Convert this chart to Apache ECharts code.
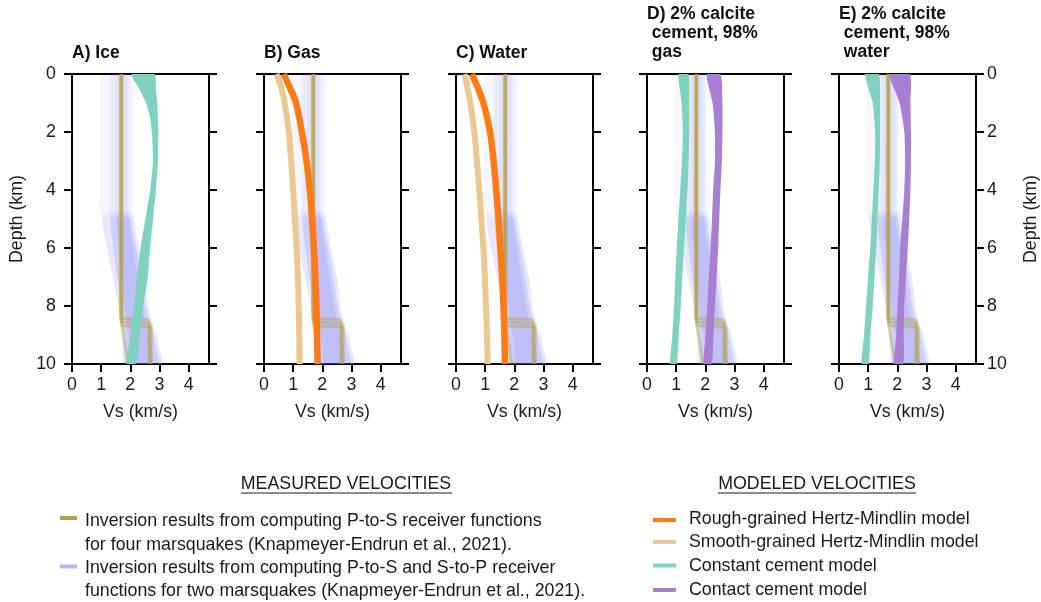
<!DOCTYPE html>
<html>
<head>
<meta charset="utf-8">
<script src="https://cdn.jsdelivr.net/npm/echarts@6/dist/echarts.min.js"></script>
<style>
  html, body { margin: 0; padding: 0; background: #fff; }
  #chart { width: 1041px; height: 602px; }
</style>
</head>
<body>
<div id="chart"></div>
<script>
const FONT = '"Liberation Sans", Arial, sans-serif'

// tick values
const xTicks = [0, 1, 2, 3, 4]
const yTicks = [0, 2, 4, 6, 8, 10]

// measured: inversion results (P-to-S and S-to-P), read as envelope bands
const blueDepth = [0, 4.7, 4.8, 5.5, 6, 7, 8, 8.5, 9, 10]
const blueOuterLo = [0.95, 0.95, 1.0, 1.1, 1.2, 1.4, 1.6, 1.7, 1.72, 1.75]
const blueOuterHi = [2.15, 2.15, 2.1, 2.2, 2.3, 2.5, 2.62, 2.72, 2.9, 3.12]
const blueInnerLo = [1.3, 1.3, 1.3, 1.35, 1.42, 1.55, 1.7, 1.76, 1.8, 1.85]
const blueInnerHi = [2.0, 2.0, 2.0, 2.1, 2.2, 2.38, 2.52, 2.62, 2.8, 3.0]
const blueCoreLo = [1.5, 1.5, 1.5, 1.55, 1.6, 1.7, 1.8, 1.85, 1.95, 2.05]
const blueCoreHi = [1.9, 1.9, 1.92, 2.0, 2.1, 2.25, 2.4, 2.5, 2.65, 2.8]

// measured: P-to-S receiver function inversions (four marsquakes)
const olive1 = [[1.66, 0], [1.66, 8.42], [2.63, 8.47], [2.63, 10]]
const olive2 = [[1.70, 0], [1.70, 8.55], [2.68, 8.6], [2.68, 10]]
const olive3 = [[1.72, 0], [1.72, 8.68], [2.72, 8.73], [2.72, 10]]
const olive4 = [[1.68, 0], [1.68, 8.5], [1.92, 10]]

// A) ice - constant cement band
const iceDepth = [0, 0.5, 1, 1.5, 2, 3, 4, 5, 6, 7, 8, 9, 10]
const iceLo = [2.04, 2.3, 2.54, 2.68, 2.74, 2.78, 2.68, 2.52, 2.35, 2.23, 2.13, 2.01, 1.88]
const iceHi = [2.83, 2.88, 2.93, 2.95, 2.96, 2.95, 2.88, 2.78, 2.68, 2.6, 2.45, 2.33, 2.2]

// B, C) Hertz-Mindlin lines
const hmDepth = [0, 0.5, 1, 2, 3, 4, 5, 6, 7, 8, 9, 10]
const gasRough = [0.68, 0.9, 1.1, 1.3, 1.46, 1.57, 1.65, 1.71, 1.76, 1.8, 1.82, 1.84]
const gasSmooth = [0.43, 0.6, 0.71, 0.85, 0.93, 1.0, 1.06, 1.12, 1.16, 1.19, 1.21, 1.22]
const waterRough = [0.54, 0.76, 0.94, 1.17, 1.29, 1.38, 1.46, 1.52, 1.58, 1.63, 1.66, 1.68]
const waterSmooth = [0.29, 0.4, 0.49, 0.63, 0.72, 0.8, 0.87, 0.94, 0.99, 1.03, 1.06, 1.09]

// D, E) cemented bands
const cemDepth = [0, 1, 2, 3, 4, 5, 6, 7, 8, 9, 10]
const gasConstLo = [1.08, 1.19, 1.23, 1.2, 1.14, 1.08, 1.02, 0.97, 0.93, 0.87, 0.8]
const gasConstHi = [1.42, 1.45, 1.45, 1.43, 1.39, 1.33, 1.27, 1.21, 1.16, 1.09, 1.02]
const gasContLo = [2.05, 2.25, 2.33, 2.33, 2.27, 2.23, 2.18, 2.12, 2.07, 2.01, 1.95]
const gasContHi = [2.52, 2.59, 2.59, 2.57, 2.52, 2.48, 2.44, 2.39, 2.33, 2.28, 2.22]
const waterConstLo = [0.9, 1.16, 1.24, 1.23, 1.18, 1.13, 1.07, 1.0, 0.93, 0.86, 0.78]
const waterConstHi = [1.36, 1.41, 1.41, 1.4, 1.36, 1.32, 1.28, 1.22, 1.16, 1.08, 1.01]
const waterContLo = [1.74, 2.08, 2.24, 2.27, 2.24, 2.17, 2.1, 2.06, 2.01, 1.96, 1.9]
const waterContHi = [2.43, 2.45, 2.47, 2.47, 2.45, 2.41, 2.36, 2.3, 2.24, 2.22, 2.2]

const titles = ['A) Ice', 'B) Gas', 'C) Water', 'D) 2% calcite\n cement, 98%\n gas', 'E) 2% calcite\n cement, 98%\n water']
const panelLeft = [72, 264, 456, 647, 839]

const C_OLIVE = '#b5a04a'
const C_BLUE_LEG = '#b3b8f5'
const C_ORANGE = '#ff7a12'
const C_TAN = '#ebc88f'
const C_TEAL = '#80d2c0'
const C_PURPLE = '#a87fd2'
const FS = 17.8

const chart = echarts.init(document.getElementById('chart'))

// polygon between two curves x=lo(d) and x=hi(d)
const band = (pi, depth, lo, hi, fill, z, smooth) => ({
    type: 'custom',
    xAxisIndex: pi,
    yAxisIndex: pi * 2,
    clip: true,
    silent: true,
    z: z,
    data: [[lo[0], depth[0]]],
    renderItem: (params, api) => {
        const pts = []
        for (let i = 0; i < depth.length; i++) pts.push(api.coord([lo[i], depth[i]]))
        for (let i = depth.length - 1; i >= 0; i--) pts.push(api.coord([hi[i], depth[i]]))
        return { type: 'polygon', shape: { points: pts, smooth: smooth || 0 }, style: { fill: fill } }
    }
})

const blueFill = (a1, a2) => new echarts.graphic.LinearGradient(0, 0, 0, 1, [
    { offset: 0, color: 'rgba(110,112,240,' + a1 + ')' },
    { offset: 0.47, color: 'rgba(110,112,240,' + a1 + ')' },
    { offset: 0.5, color: 'rgba(110,112,240,' + a2 + ')' },
    { offset: 1, color: 'rgba(110,112,240,' + a2 + ')' }
])

const modelLine = (pi, xs, color, width) => ({
    type: 'line',
    xAxisIndex: pi,
    yAxisIndex: pi * 2,
    data: xs.map((x, i) => [x, hmDepth[i]]),
    symbol: 'none',
    smooth: 0.3,
    silent: true,
    z: 6,
    lineStyle: { color: color, width: width }
})

const grids = [], xAxes = [], yAxes = [], series = [], titleList = []
const axisLineStyle = { color: '#000', width: 2 }
const labelStyle = { fontSize: FS, color: '#1a1a1a', fontFamily: FONT }

for (let i = 0; i < 5; i++) {
    grids.push({ left: panelLeft[i], top: 74, width: 137, height: 290, show: true, borderColor: '#000', borderWidth: 2 })
    titleList.push({
        text: titles[i], left: panelLeft[i], top: i >= 3 ? 5 : 44, padding: 0,
        textStyle: { fontSize: 17.5, fontWeight: 'bold', fontFamily: FONT, color: '#111', lineHeight: 19 }
    })
    xAxes.push({
        gridIndex: i, type: 'value', min: 0, max: 4.7, position: 'bottom',
        axisLine: { show: true, onZero: false, lineStyle: axisLineStyle },
        axisTick: { show: true, length: 8, lineStyle: axisLineStyle, customValues: xTicks },
        axisLabel: Object.assign({ customValues: xTicks, margin: 12 }, labelStyle),
        splitLine: { show: false },
        name: 'Vs (km/s)', nameLocation: 'middle', nameGap: 39,
        nameTextStyle: labelStyle
    })
    for (const side of ['left', 'right']) {
        const labeled = (side === 'left' && i === 0) || (side === 'right' && i === 4)
        yAxes.push({
            gridIndex: i, type: 'value', inverse: true, min: 0, max: 10, position: side,
            axisLine: { show: true, lineStyle: axisLineStyle },
            axisTick: { show: true, length: 8, lineStyle: axisLineStyle, customValues: yTicks },
            axisLabel: Object.assign({ show: labeled, customValues: yTicks, margin: side === 'left' ? 16 : 11 }, labelStyle),
            splitLine: { show: false },
            name: labeled ? 'Depth (km)' : '', nameLocation: 'middle', nameGap: 46,
            nameTextStyle: labelStyle
        })
    }
    // measured velocities (same in every panel)
    series.push(band(i, blueDepth, blueOuterLo, blueOuterHi, blueFill(0.06, 0.17), 1))
    series.push(band(i, blueDepth, blueInnerLo, blueInnerHi, blueFill(0.09, 0.2), 1))
    series.push(band(i, blueDepth, blueCoreLo, blueCoreHi, blueFill(0.08, 0.16), 1))
    for (const ol of [olive1, olive2, olive3, olive4]) {
        series.push({
            type: 'line', xAxisIndex: i, yAxisIndex: i * 2, data: ol, symbol: 'none', silent: true, z: 3,
            lineStyle: { color: C_OLIVE, width: 3, opacity: 0.45 }
        })
    }
}

// modelled velocities
series.push(band(0, iceDepth, iceLo, iceHi, C_TEAL, 5, 0.2))
series.push(modelLine(1, gasSmooth, C_TAN, 6))
series.push(modelLine(1, gasRough, C_ORANGE, 6.5))
series.push(modelLine(2, waterSmooth, C_TAN, 6))
series.push(modelLine(2, waterRough, C_ORANGE, 6.5))
series.push(band(3, cemDepth, gasConstLo, gasConstHi, C_TEAL, 5, 0.2))
series.push(band(3, cemDepth, gasContLo, gasContHi, C_PURPLE, 5, 0.2))
series.push(band(4, cemDepth, waterConstLo, waterConstHi, C_TEAL, 5, 0.2))
series.push(band(4, cemDepth, waterContLo, waterContHi, C_PURPLE, 5, 0.2))

// legend text blocks
const txt = (x, y, s, align) => ({
    type: 'text', x: x, y: y,
    style: { text: s, fontSize: FS, fontFamily: FONT, fill: '#1a1a1a', align: align || 'left', verticalAlign: 'middle' }
})
const mark = (x1, x2, y, color) => ({
    type: 'line', shape: { x1: x1, y1: y, x2: x2, y2: y }, style: { stroke: color, lineWidth: 4 }
})
const underline = (x1, x2, y) => ({
    type: 'line', shape: { x1: x1, y1: y, x2: x2, y2: y }, style: { stroke: '#1a1a1a', lineWidth: 1 }
})

const graphics = [
    txt(346, 484, 'MEASURED VELOCITIES', 'center'),
    underline(241, 452, 493),
    mark(60, 77, 518, C_OLIVE),
    txt(85, 521, 'Inversion results from computing P-to-S receiver functions'),
    txt(85, 545, 'for four marsquakes (Knapmeyer-Endrun et al., 2021).'),
    mark(60, 77, 566.5, C_BLUE_LEG),
    txt(85, 568, 'Inversion results from computing P-to-S and S-to-P receiver'),
    txt(85, 591.5, 'functions for two marsquakes (Knapmeyer-Endrun et al., 2021).'),

    txt(817, 484, 'MODELED VELOCITIES', 'center'),
    underline(718, 916, 493),
    mark(653, 676, 520, C_ORANGE),
    txt(689, 519, 'Rough-grained Hertz-Mindlin model'),
    mark(653, 676, 542, C_TAN),
    txt(689, 542, 'Smooth-grained Hertz-Mindlin model'),
    mark(653, 676, 565.5, C_TEAL),
    txt(689, 566, 'Constant cement model'),
    mark(653, 676, 590, C_PURPLE),
    txt(689, 590, 'Contact cement model')
]

chart.setOption({
    backgroundColor: '#fff',
    animation: false,
    title: titleList,
    grid: grids,
    xAxis: xAxes,
    yAxis: yAxes,
    series: series,
    graphic: graphics
})
</script>
</body>
</html>
